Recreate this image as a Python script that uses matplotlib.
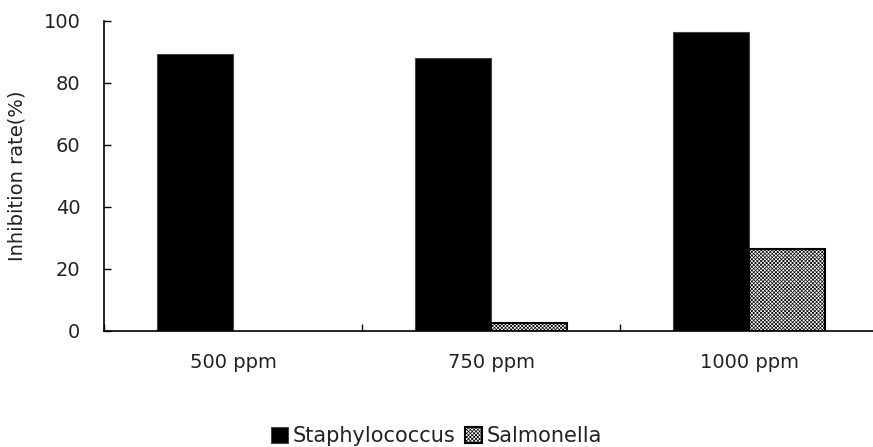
import numpy as np
import matplotlib.pyplot as plt
from matplotlib.patches import Patch

plt.rcParams['font.family'] = ['DejaVu Sans']
plt.rcParams['hatch.linewidth'] = 0.5

# inhibition rate (%) by concentration
doses = ["500 ppm", "750 ppm", "1000 ppm"]
staph = [89.5, 88.2, 96.3]
salmonella = [0.0, 2.6, 26.4]

x = np.arange(len(doses))
w = 0.295

staph_style = dict(facecolor="black", edgecolor="#444444", linewidth=0.8)
sal_style = dict(facecolor="white", edgecolor="black", hatch="xxxxxxxxx", linewidth=1.5)

fig = plt.figure(figsize=(8.73, 4.47), dpi=100)
ax = fig.add_axes([104 / 873, 1 - 331 / 447, 1 - 104 / 873, 310 / 447])

ax.bar(x - w / 2, staph, w, **staph_style)
sal = ax.bar(x + w / 2, salmonella, w, **sal_style)
# a zero-height bar would otherwise leave a stray outline on the axis
for b, v in zip(sal, salmonella):
    if v == 0:
        b.set_visible(False)

ax.set_xlim(-0.5, 2.48)
ax.set_ylim(0, 100)
ax.set_yticks([0, 20, 40, 60, 80, 100])
ax.tick_params(axis="y", direction="in", length=5, width=1, labelsize=14, pad=17,
               labelcolor="#222222")

# group separators as ticks, category names in between
ax.set_xticks([-0.5, 0.5, 1.5])
ax.set_xticklabels([])
ax.set_xticks(x, minor=True)
ax.set_xticklabels(doses, minor=True)
ax.tick_params(axis="x", which="major", direction="in", length=5, width=1)
ax.tick_params(axis="x", which="minor", length=0, labelsize=14, pad=16,
               labelcolor="#222222")

for s in ("top", "right"):
    ax.spines[s].set_visible(False)
ax.spines["left"].set_linewidth(1.2)
ax.spines["bottom"].set_linewidth(1.2)

ax.set_ylabel("Inhibition rate(%)", fontsize=14, labelpad=12, color="#222222")

handles = [Patch(label="Staphylococcus", **staph_style),
           Patch(label="Salmonella", **sal_style)]
fig.legend(handles=handles, loc="center", bbox_to_anchor=(0.5, 1 - 436 / 447), ncol=2,
           frameon=False, handlelength=0.8, handleheight=0.8, handletextpad=0.2,
           columnspacing=0.5, prop={"size": 15}, labelcolor="#222222")

fig.savefig("out.png", dpi=100)
